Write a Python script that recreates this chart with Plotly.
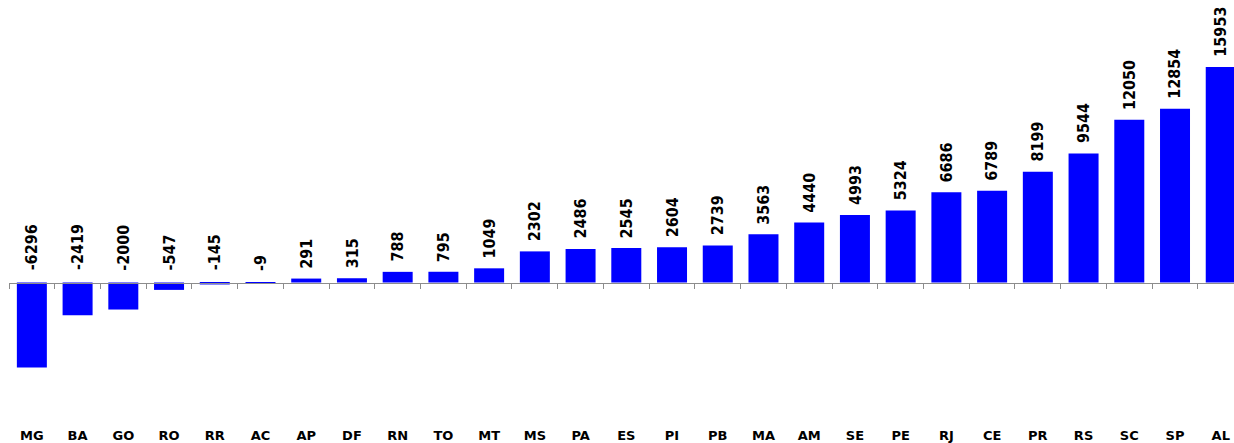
import plotly.graph_objects as go

states = ["MG", "BA", "GO", "RO", "RR", "AC", "AP", "DF", "RN", "TO", "MT", "MS", "PA", "ES",
          "PI", "PB", "MA", "AM", "SE", "PE", "RJ", "CE", "PR", "RS", "SC", "SP", "AL"]
values = [-6296, -2419, -2000, -547, -145, -9, 291, 315, 788, 795, 1049, 2302, 2486, 2545,
          2604, 2739, 3563, 4440, 4993, 5324, 6686, 6789, 8199, 9544, 12050, 12854, 15953]

BAR_COLOR = "#0000FF"
AXIS_GRAY = "#8C8C8C"
LABEL_FONT = dict(family="DejaVu Sans Condensed, Liberation Sans Narrow, sans-serif",
                  size=16, color="#000000", weight="bold")

fig = go.Figure()
fig.add_trace(go.Bar(x=states, y=values, marker=dict(color=BAR_COLOR, line=dict(width=0)),
                     hoverinfo="x+y"))

annotations = []
for s, v in zip(states, values):
    annotations.append(dict(
        x=s, y=max(v, 0), xref="x", yref="y",
        text=str(v), textangle=-90, showarrow=False,
        xanchor="center", yanchor="bottom",
        yshift=8 if v > 0 else 10,
        font=LABEL_FONT,
    ))

n = len(states)
y_top = 20905
y_bot = -11877
zero_frac = (0 - y_bot) / (y_top - y_bot)

fig.update_layout(
    width=1234, height=443,
    margin=dict(l=9, r=0, t=0, b=0),
    paper_bgcolor="white", plot_bgcolor="white",
    showlegend=False,
    bargap=0.344,
    annotations=annotations,
    xaxis=dict(type="category", range=[-0.5, n - 0.71], anchor="free", position=zero_frac,
               showline=True, linecolor=AXIS_GRAY, linewidth=1,
               ticks="outside", ticklen=5, tickwidth=1, tickcolor=AXIS_GRAY,
               tickson="boundaries", ticklabelstandoff=141,
               showgrid=False, zeroline=False, fixedrange=True,
               tickfont=dict(family="DejaVu Sans, Verdana, sans-serif", size=13,
                             color="#000000", weight="bold")),
    yaxis=dict(range=[y_bot, y_top], visible=False, showgrid=False, zeroline=False),
)

fig.write_html("out.html")
